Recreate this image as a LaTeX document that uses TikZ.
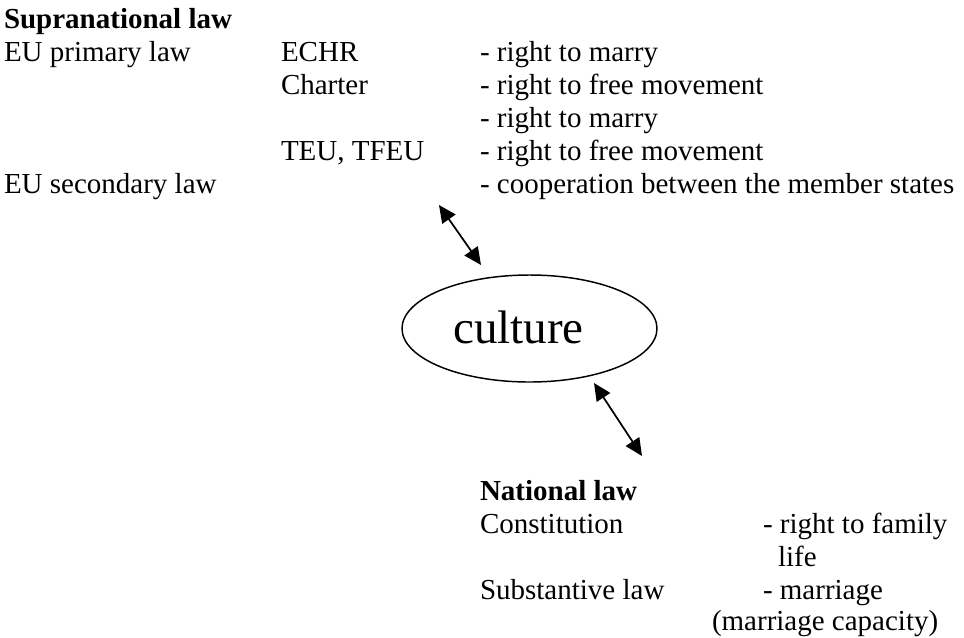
\documentclass[tikz,border=0pt]{standalone}
\usepackage{fontspec}
\setmainfont{Liberation Serif}
\usetikzlibrary{arrows.meta}
\begin{document}
\begin{tikzpicture}[x=0.75pt,y=-0.75pt,
  txt/.style={anchor=base west,inner sep=0pt,outer sep=0pt,font=\fontsize{21.75pt}{25pt}\selectfont},
  head/.style={txt,font=\fontsize{21.75pt}{25pt}\selectfont\bfseries},
  dblarrow/.style={line width=1.3pt,{Triangle[length=13pt,width=12pt]}-{Triangle[length=13pt,width=12pt]}}
]
\useasboundingbox (0,0) rectangle (964,637);
% Supranational block
\node[head] (supra) at (4,28) {Supranational law};
\node[txt] (prim) at (4,61) {EU primary law};
\node[txt] (echr) at (281,61) {ECHR};
\node[txt] (echrA) at (480,61) {- right to marry};
\node[txt] (chart) at (281,94) {Charter};
\node[txt] (chartA) at (480,94) {- right to free movement};
\node[txt] (chartB) at (480,127) {- right to marry};
\node[txt] (teu) at (281,160) {TEU, TFEU};
\node[txt] (teuA) at (480,160) {- right to free movement};
\node[txt] (sec) at (4,193) {EU secondary law};
\node[txt] (secA) at (480,193) {- cooperation between the member states};
% culture
\draw[line width=1.1pt] (529.5,328.5) ellipse [x radius=127.5, y radius=53.5];
\node[anchor=base west,inner sep=0pt,font=\fontsize{35.25pt}{40pt}\selectfont] (cult) at (453,343) {culture};
% arrows
\coordinate (a1s) at (439,205);
\coordinate (a1e) at (481,265);
\coordinate (a2s) at (594,383);
\coordinate (a2e) at (642,456);
\draw[dblarrow] (a1s) -- (a1e);
\draw[dblarrow] (a2s) -- (a2e);
% National block
\node[head] (nat) at (480,500) {National law};
\node[txt] (const) at (480,533) {Constitution};
\node[txt] (constA) at (763,533) {- right to family};
\node[txt] (constB) at (778,566) {life};
\node[txt] (subst) at (480,599) {Substantive law};
\node[txt] (substA) at (763,599) {- marriage};
\node[txt] (substB) at (712,630) {(marriage capacity)};
\end{tikzpicture}
\end{document}
